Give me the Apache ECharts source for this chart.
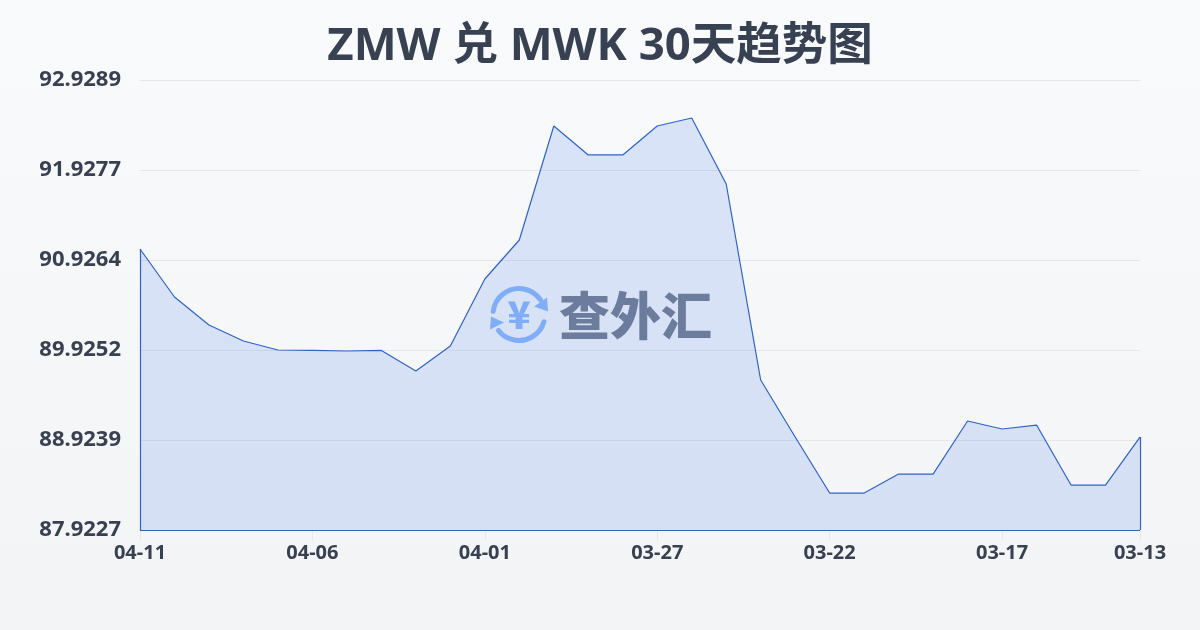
<!DOCTYPE html>
<html>
<head>
<meta charset="utf-8">
<style>
html, body { margin: 0; padding: 0; }
#chart { width: 1200px; height: 630px; }
</style>
</head>
<body>
<div id="chart"></div>
<script src="https://cdn.jsdelivr.net/npm/echarts@6/dist/echarts.min.js"></script>
<script>
// 日期（从新到旧）
const dates = ['04-11','04-10','04-09','04-08','04-07','04-06','04-05','04-04','04-03','04-02',
    '04-01','03-31','03-30','03-29','03-28','03-27','03-26','03-25','03-24','03-23',
    '03-22','03-21','03-20','03-19','03-18','03-17','03-16','03-15','03-14','03-13'];
// 汇率
const rates = [91.049, 90.515, 90.204, 90.025, 89.925, 89.920, 89.914, 89.920, 89.692, 89.970,
    90.715, 91.149, 92.417, 92.095, 92.095, 92.417, 92.506, 91.772, 89.591, 88.957,
    88.334, 88.334, 88.545, 88.545, 89.135, 89.046, 89.090, 88.423, 88.423, 88.957];
// y轴刻度
const yTicks = [87.9227, 88.9239, 89.9252, 90.9264, 91.9277, 92.9289];

const lineColor = '#2f63c8';
const textColor = '#374151';
const logoBlue = '#8fbaf8';
const fontName = '"Noto Sans", "Noto Sans CJK SC", sans-serif';
const cjkFont = '"Noto Sans CJK SC", sans-serif';
const lastIndex = dates.length - 1;

const chart = echarts.init(document.getElementById('chart'));

const option = {
    animation: false,
    backgroundColor: new echarts.graphic.LinearGradient(0, 0, 0, 1, [
        { offset: 0, color: '#f8fafc' },
        { offset: 1, color: '#f3f4f6' }
    ]),
    title: {
        text: 'ZMW 兑 MWK 30天趋势图',
        left: 'center',
        top: 19,
        textStyle: { fontFamily: fontName, fontSize: 45.5, fontWeight: 'bold', color: textColor }
    },
    grid: { left: 140, right: 60, top: 80, bottom: 100 },
    xAxis: {
        type: 'category',
        data: dates,
        boundaryGap: false,
        axisLine: { show: false },
        axisTick: {
            show: true,
            alignWithLabel: true,
            length: 10,
            lineStyle: { color: '#e5e7eb' },
            interval: i => i % 5 === 0 || i === lastIndex
        },
        axisLabel: {
            interval: i => i % 5 === 0 || i === lastIndex,
            fontFamily: fontName,
            fontSize: 20,
            fontWeight: 'bold',
            color: textColor,
            margin: 13,
            hideOverlap: false
        }
    },
    yAxis: {
        type: 'value',
        min: yTicks[0],
        max: yTicks[yTicks.length - 1],
        axisLine: { show: false },
        axisTick: { show: false, customValues: yTicks },
        splitLine: { lineStyle: { color: '#e5e7eb', width: 1 } },
        axisLabel: {
            customValues: yTicks,
            formatter: v => v.toFixed(4),
            fontFamily: fontName,
            fontSize: 22,
            fontWeight: 'bold',
            color: textColor,
            margin: 19,
            padding: [0, 0, 3, 0]
        }
    },
    series: [{
        type: 'line',
        data: rates,
        symbol: 'none',
        smooth: false,
        lineStyle: { color: lineColor, width: 1.2 },
        areaStyle: { color: 'rgba(37,99,235,0.14)', opacity: 1 },
        // 面积图左、下、右三条边
        markLine: {
            silent: true,
            symbol: 'none',
            label: { show: false },
            lineStyle: { color: lineColor, width: 1.2, type: 'solid' },
            data: [
                [{ coord: [0, yTicks[0]] }, { coord: [0, rates[0]] }],
                [{ coord: [0, yTicks[0]] }, { coord: [lastIndex, yTicks[0]] }],
                [{ coord: [lastIndex, yTicks[0]] }, { coord: [lastIndex, rates[lastIndex]] }]
            ]
        }
    }],
    // 水印 logo
    graphic: [
        {
            type: 'group',
            left: 490,
            top: 286,
            width: 60,
            height: 60,
            children: [
                { type: 'arc', shape: { cx: 30, cy: 29, r: 26, startAngle: Math.PI * 1.04, endAngle: Math.PI * 1.81 },
                  style: { stroke: logoBlue, lineWidth: 5, fill: null, lineCap: 'round' } },
                { type: 'arc', shape: { cx: 30, cy: 29, r: 26, startAngle: Math.PI * 0.09, endAngle: Math.PI * 0.79 },
                  style: { stroke: logoBlue, lineWidth: 5, fill: null, lineCap: 'round' } },
                { type: 'polygon', shape: { points: [[58, 12], [59, 26], [45, 21]] }, style: { fill: logoBlue } },
                { type: 'polygon', shape: { points: [[2, 31], [1, 44], [15, 37]] }, style: { fill: logoBlue } },
                { type: 'text', x: 30, y: 29,
                  style: { text: '¥', fontFamily: cjkFont, fontSize: 38, fontWeight: 900, fill: logoBlue, align: 'center', verticalAlign: 'middle' } }
            ]
        },
        {
            type: 'text',
            left: 559,
            top: 290,
            style: { text: '查外汇', fontFamily: cjkFont, fontSize: 51, fontWeight: 900, fill: '#798190' }
        }
    ]
};

chart.setOption(option);
</script>
</body>
</html>
